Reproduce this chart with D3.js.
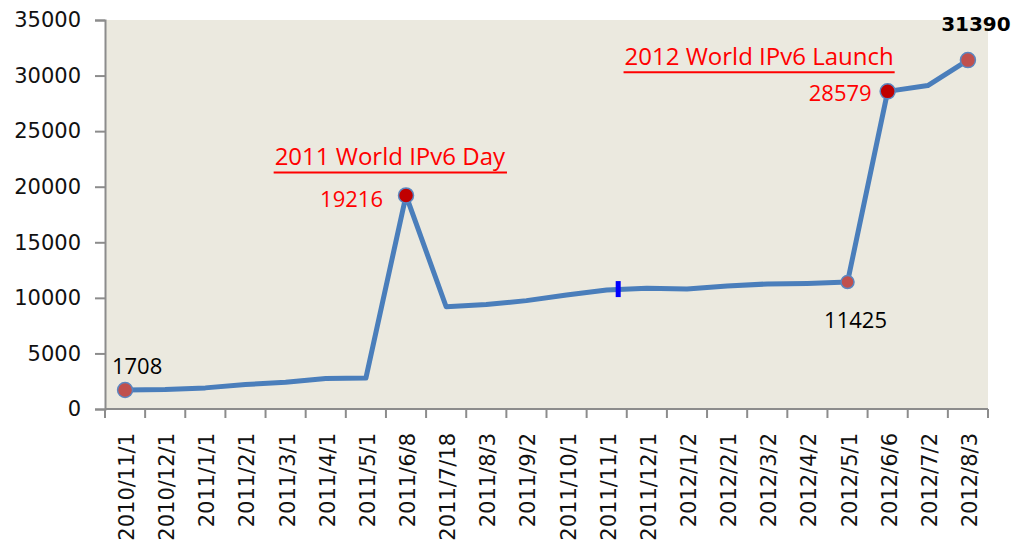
<!DOCTYPE html>
<html>
<head>
<meta charset="utf-8">
<script src="https://cdn.jsdelivr.net/npm/d3@7"></script>
<style>
  body { margin: 0; background: #fff; }
</style>
</head>
<body>
<div id="chart"></div>
<script>
var dates = ['2010/11/1','2010/12/1','2011/1/1','2011/2/1','2011/3/1','2011/4/1','2011/5/1',
  '2011/6/8','2011/7/18','2011/8/3','2011/9/2','2011/10/1','2011/11/1','2011/12/1',
  '2012/1/2','2012/2/1','2012/3/2','2012/4/2','2012/5/1','2012/6/6','2012/7/2','2012/8/3'];
var counts = [1708, 1750, 1900, 2200, 2400, 2750, 2780, 19216, 9200, 9400, 9750, 10250,
  10700, 10860, 10800, 11070, 11250, 11300, 11425, 28579, 29100, 31390];
var yTicks = [0, 5000, 10000, 15000, 20000, 25000, 30000, 35000];

// which points get a marker + value label
var labelIdx = [0, 7, 18, 19, 21];
// event notes
var eventNames = ['2011 World IPv6 Day', '2012 World IPv6 Launch'];
var eventIdx = [7, 19];
var markIdx = 12; // the odd blue bar on 2011/11/1

var W = 1034, H = 546;
var m = { left: 105, top: 20, right: 46, bottom: 137 };

var svg = d3.select('#chart').append('svg')
  .attr('width', W)
  .attr('height', H);

var x = d3.scaleBand().domain(dates).range([m.left, W - m.right]);
var y = d3.scaleLinear().domain([0, 35000]).range([H - m.bottom, m.top]);
var cx = function (i) { return x(dates[i]) + x.bandwidth() / 2; };

// plot area
svg.append('rect')
  .attr('x', m.left).attr('y', m.top)
  .attr('width', W - m.right - m.left)
  .attr('height', H - m.bottom - m.top)
  .attr('fill', '#ebe9df');

// y axis
var yAxis = svg.append('g')
  .attr('transform', 'translate(' + m.left + ',0)')
  .call(d3.axisLeft(y).tickValues(yTicks).tickSize(10).tickPadding(14).tickFormat(d3.format('d')));
yAxis.selectAll('text')
  .attr('font-family', 'DejaVu Sans, Verdana, sans-serif')
  .attr('font-size', 21)
  .attr('fill', '#111');

// x axis, ticks on the band edges
var edges = dates.map(function (d) { return x(d); }).concat([x.range()[1]]);
var xAxis = svg.append('g');
xAxis.append('line')
  .attr('x1', m.left).attr('x2', W - m.right)
  .attr('y1', y(0)).attr('y2', y(0));
xAxis.selectAll('.tk').data(edges).enter().append('line')
  .attr('x1', function (d) { return d; }).attr('x2', function (d) { return d; })
  .attr('y1', y(0)).attr('y2', y(0) + 9);
xAxis.selectAll('text').data(dates).enter().append('text')
  .attr('transform', function (d) {
    return 'translate(' + (x(d) + x.bandwidth() / 2 + 9) + ',' + (y(0) + 24) + ') rotate(-90)';
  })
  .attr('text-anchor', 'end')
  .attr('font-family', 'DejaVu Sans, Verdana, sans-serif')
  .attr('font-size', 21)
  .attr('fill', '#111')
  .text(function (d) { return d; });

svg.selectAll('.domain, .tick line').attr('stroke', '#8c8c8c').attr('stroke-width', 2);
xAxis.selectAll('line').attr('stroke', '#8c8c8c').attr('stroke-width', 2);

// the line
var line = d3.line()
  .x(function (d, i) { return cx(i); })
  .y(function (d) { return y(d); });
svg.append('path')
  .datum(counts)
  .attr('d', line)
  .attr('fill', 'none')
  .attr('stroke', '#4a7ebb')
  .attr('stroke-width', 5)
  .attr('stroke-linejoin', 'round');

// little blue bar on 2011/11/1
svg.append('rect')
  .attr('x', cx(markIdx) + 9).attr('y', y(counts[markIdx]) - 9)
  .attr('width', 5).attr('height', 16)
  .attr('fill', '#0000ff');

// per-label styling: fill, radius, text colour, dx, dy, anchor, bold
var look = {
  0:  { fill: '#c0504d', r: 7.5, color: '#000',    dx: 12,  dy: -16, anchor: 'middle' },
  7:  { fill: '#c00000', r: 7.5, color: '#ff0000', dx: -23, dy: 12,  anchor: 'end' },
  18: { fill: '#c0504d', r: 6.5, color: '#000',    dx: 8,   dy: 46,  anchor: 'middle' },
  19: { fill: '#c00000', r: 7.5, color: '#ff0000', dx: -16, dy: 10,  anchor: 'end' },
  21: { fill: '#c0504d', r: 7.5, color: '#000',    dx: 8,   dy: -29, anchor: 'middle', bold: true }
};

// markers
svg.selectAll('circle').data(labelIdx).enter().append('circle')
  .attr('cx', function (i) { return cx(i); })
  .attr('cy', function (i) { return y(counts[i]); })
  .attr('r', function (i) { return look[i].r; })
  .attr('fill', function (i) { return look[i].fill; })
  .attr('stroke', '#5b86c0')
  .attr('stroke-width', 1.5);

// data labels
svg.selectAll('.lbl').data(labelIdx).enter().append('text')
  .attr('x', function (i) { return cx(i) + look[i].dx; })
  .attr('y', function (i) { return y(counts[i]) + look[i].dy; })
  .attr('text-anchor', function (i) { return look[i].anchor; })
  .attr('font-family', function (i) { return look[i].bold ? 'DejaVu Sans, sans-serif' : 'Open Sans, sans-serif'; })
  .attr('font-size', function (i) { return look[i].bold ? 20 : 22; })
  .attr('font-weight', function (i) { return look[i].bold ? 'bold' : 'normal'; })
  .attr('fill', function (i) { return look[i].color; })
  .text(function (i) { return d3.format('d')(counts[i]); });

// event annotations, underlined; anchored at their right end
var evDx = [99, 6];
var evDy = [-30, -26];
eventNames.forEach(function (name, k) {
  var i = eventIdx[k];
  var ty = y(counts[i]) + evDy[k];
  var t = svg.append('text')
    .attr('x', cx(i) + evDx[k])
    .attr('y', ty)
    .attr('text-anchor', 'end')
    .attr('font-family', 'Open Sans, sans-serif')
    .attr('font-size', 24)
    .attr('fill', '#ff0000')
    .text(name);
  var bb = t.node().getBBox();
  svg.append('line')
    .attr('x1', bb.x - 1).attr('x2', bb.x + bb.width + 1)
    .attr('y1', ty + 7).attr('y2', ty + 7)
    .attr('stroke', '#ff0000')
    .attr('stroke-width', 2);
});
</script>
</body>
</html>
